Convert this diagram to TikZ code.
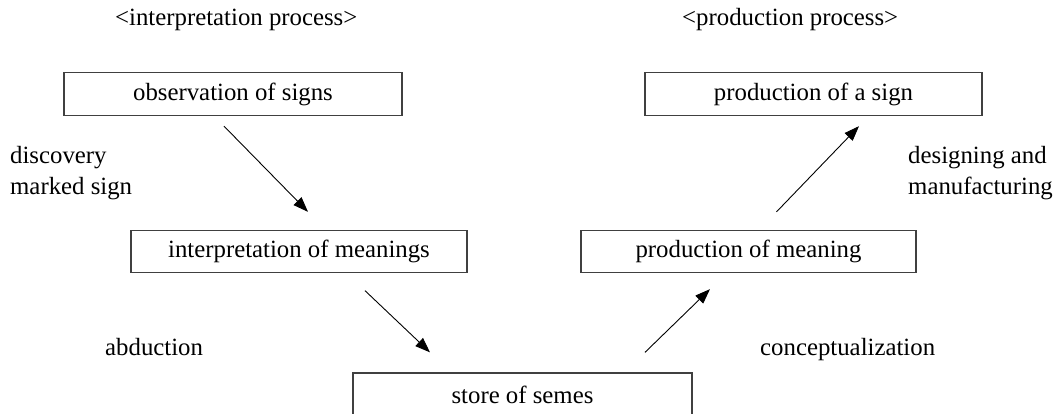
\documentclass[tikz,border=0pt]{standalone}
\usepackage{fontspec}
\setmainfont{Liberation Serif}
\usepackage{tikz}
\usetikzlibrary{positioning}
\usetikzlibrary{calc}
\usetikzlibrary{arrows.meta}

\begin{document}
\begin{tikzpicture}
		[x=1pt, y=-1pt,
		every node/.style={font=\fontsize{24.8}{31}\selectfont},
		box/.style={rectangle, draw=black!75, line width=1.3pt, inner sep=0pt},
		lbl/.style={inner sep=0pt, align=left},
		arr/.style={-{Triangle[length=15pt,width=11pt]}, line width=0.9pt}]
		\useasboundingbox (0,0) rectangle (1059,414);

		\node[box, minimum width=338pt, minimum height=43pt] (obs) at (233,94) {observation of signs};
		\node[box, minimum width=336pt, minimum height=42pt] (interp) at (299,251.5) {interpretation of meanings};
		\node[box, minimum width=339pt, minimum height=43pt] (store) at (522.5,394.5) {store of semes};
		\node[box, minimum width=335pt, minimum height=42pt] (meaning) at (748.5,251.5) {production of meaning};
		\node[box, minimum width=337pt, minimum height=43pt] (prodsign) at (813.5,94) {production of a sign};

		\node[lbl, anchor=base west] (interpproc) at (115,26) {<interpretation process>};
		\node[lbl, anchor=base west] (prodproc) at (682,26) {<production process>};
		\node[lbl, anchor=north west] (discovery) at (10,146) {discovery\\marked sign};
		\node[lbl, anchor=north west] (designing) at (908,146) {designing and\\manufacturing};
		\node[lbl, anchor=base west] (abduction) at (105,355) {abduction};
		\node[lbl, anchor=base west] (concept) at (760,355) {conceptualization};

		\draw[arr] ($(obs.south)+(-9,10)$) -- ($(interp.north)+(9,-18)$);
		\draw[arr] ($(interp.south)+(66,17.5)$) -- ($(store.north)+(-92.5,-20)$);
		\draw[arr] ($(store.north)+(122.5,-20)$) -- ($(meaning.south)+(-38.5,16)$);
		\draw[arr] ($(meaning.north)+(28,-18)$) -- ($(prodsign.south)+(45.5,10)$);
	\end{tikzpicture}
\end{document}
